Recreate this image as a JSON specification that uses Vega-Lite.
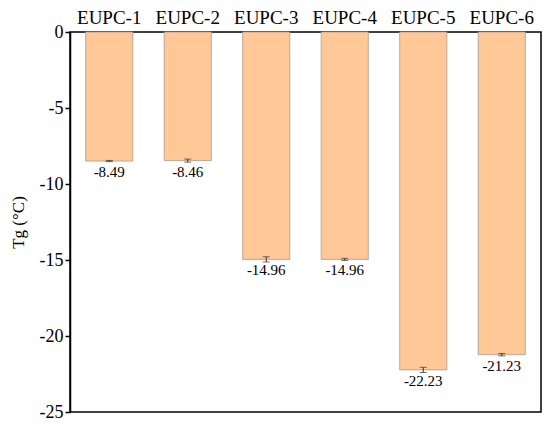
{
  "$schema": "https://vega.github.io/schema/vega-lite/v6.json",
  "width": 471,
  "height": 380,
  "autosize": "none",
  "padding": {"left": 70, "top": 32, "right": 9, "bottom": 14},
  "background": "white",
  "config": {
    "font": "Liberation Serif",
    "view": {"stroke": "black", "strokeWidth": 1.5}
  },
  "data": {
    "values": [
      {"sample": "EUPC-1", "tg": -8.49, "err": 0.04},
      {"sample": "EUPC-2", "tg": -8.46, "err": 0.1},
      {"sample": "EUPC-3", "tg": -14.96, "err": 0.17},
      {"sample": "EUPC-4", "tg": -14.96, "err": 0.07},
      {"sample": "EUPC-5", "tg": -22.23, "err": 0.17},
      {"sample": "EUPC-6", "tg": -21.23, "err": 0.08}
    ]
  },
  "transform": [
    {"calculate": "datum.tg - datum.err", "as": "lo"},
    {"calculate": "datum.tg + datum.err", "as": "hi"},
    {"calculate": "replace(format(datum.tg, '.2f'), '\u2212', '-')", "as": "lbl"}
  ],
  "encoding": {
    "x": {
      "field": "sample",
      "type": "nominal",
      "sort": null,
      "scale": {"paddingInner": 0.4, "paddingOuter": 0.2},
      "axis": {
        "orient": "top",
        "title": null,
        "labelAngle": 0,
        "labelFontSize": 19,
        "labelColor": "black",
        "labelPadding": 5,
        "ticks": false,
        "domain": false
      }
    }
  },
  "layer": [
    {
      "mark": {"type": "bar", "color": "#FFC896", "stroke": "#A89A8C", "strokeWidth": 0.8},
      "encoding": {
        "y": {
          "field": "tg",
          "type": "quantitative",
          "scale": {"domain": [-25, 0], "nice": false},
          "axis": {
            "title": "Tg (°C)",
            "titleFontSize": 17,
            "titleFontWeight": "normal",
            "titleColor": "black",
            "titlePadding": 12,
            "values": [0, -2.5, -5, -7.5, -10, -12.5, -15, -17.5, -20, -22.5, -25],
            "labelExpr": "datum.value % 5 === 0 ? replace(datum.label, '\u2212', '-') : ''",
            "labelFontSize": 18,
            "labelColor": "black",
            "tickColor": "black",
            "tickWidth": 1.5,
            "tickSize": {"condition": {"test": "datum.value % 5 !== 0", "value": 3}, "value": 5},
            "domainColor": "black",
            "domainWidth": 1.5,
            "grid": false
          }
        }
      }
    },
    {
      "mark": {"type": "rule", "color": "#333", "strokeWidth": 1},
      "encoding": {
        "y": {"field": "lo", "type": "quantitative"},
        "y2": {"field": "hi"}
      }
    },
    {
      "mark": {"type": "tick", "color": "#333", "thickness": 1, "size": 7},
      "encoding": {
        "y": {"field": "lo", "type": "quantitative"}
      }
    },
    {
      "mark": {"type": "tick", "color": "#333", "thickness": 1, "size": 7},
      "encoding": {
        "y": {"field": "hi", "type": "quantitative"}
      }
    },
    {
      "mark": {"type": "text", "baseline": "top", "dy": 4, "fontSize": 15, "color": "black"},
      "encoding": {
        "y": {"field": "tg", "type": "quantitative"},
        "text": {"field": "lbl", "type": "nominal"}
      }
    }
  ]
}
